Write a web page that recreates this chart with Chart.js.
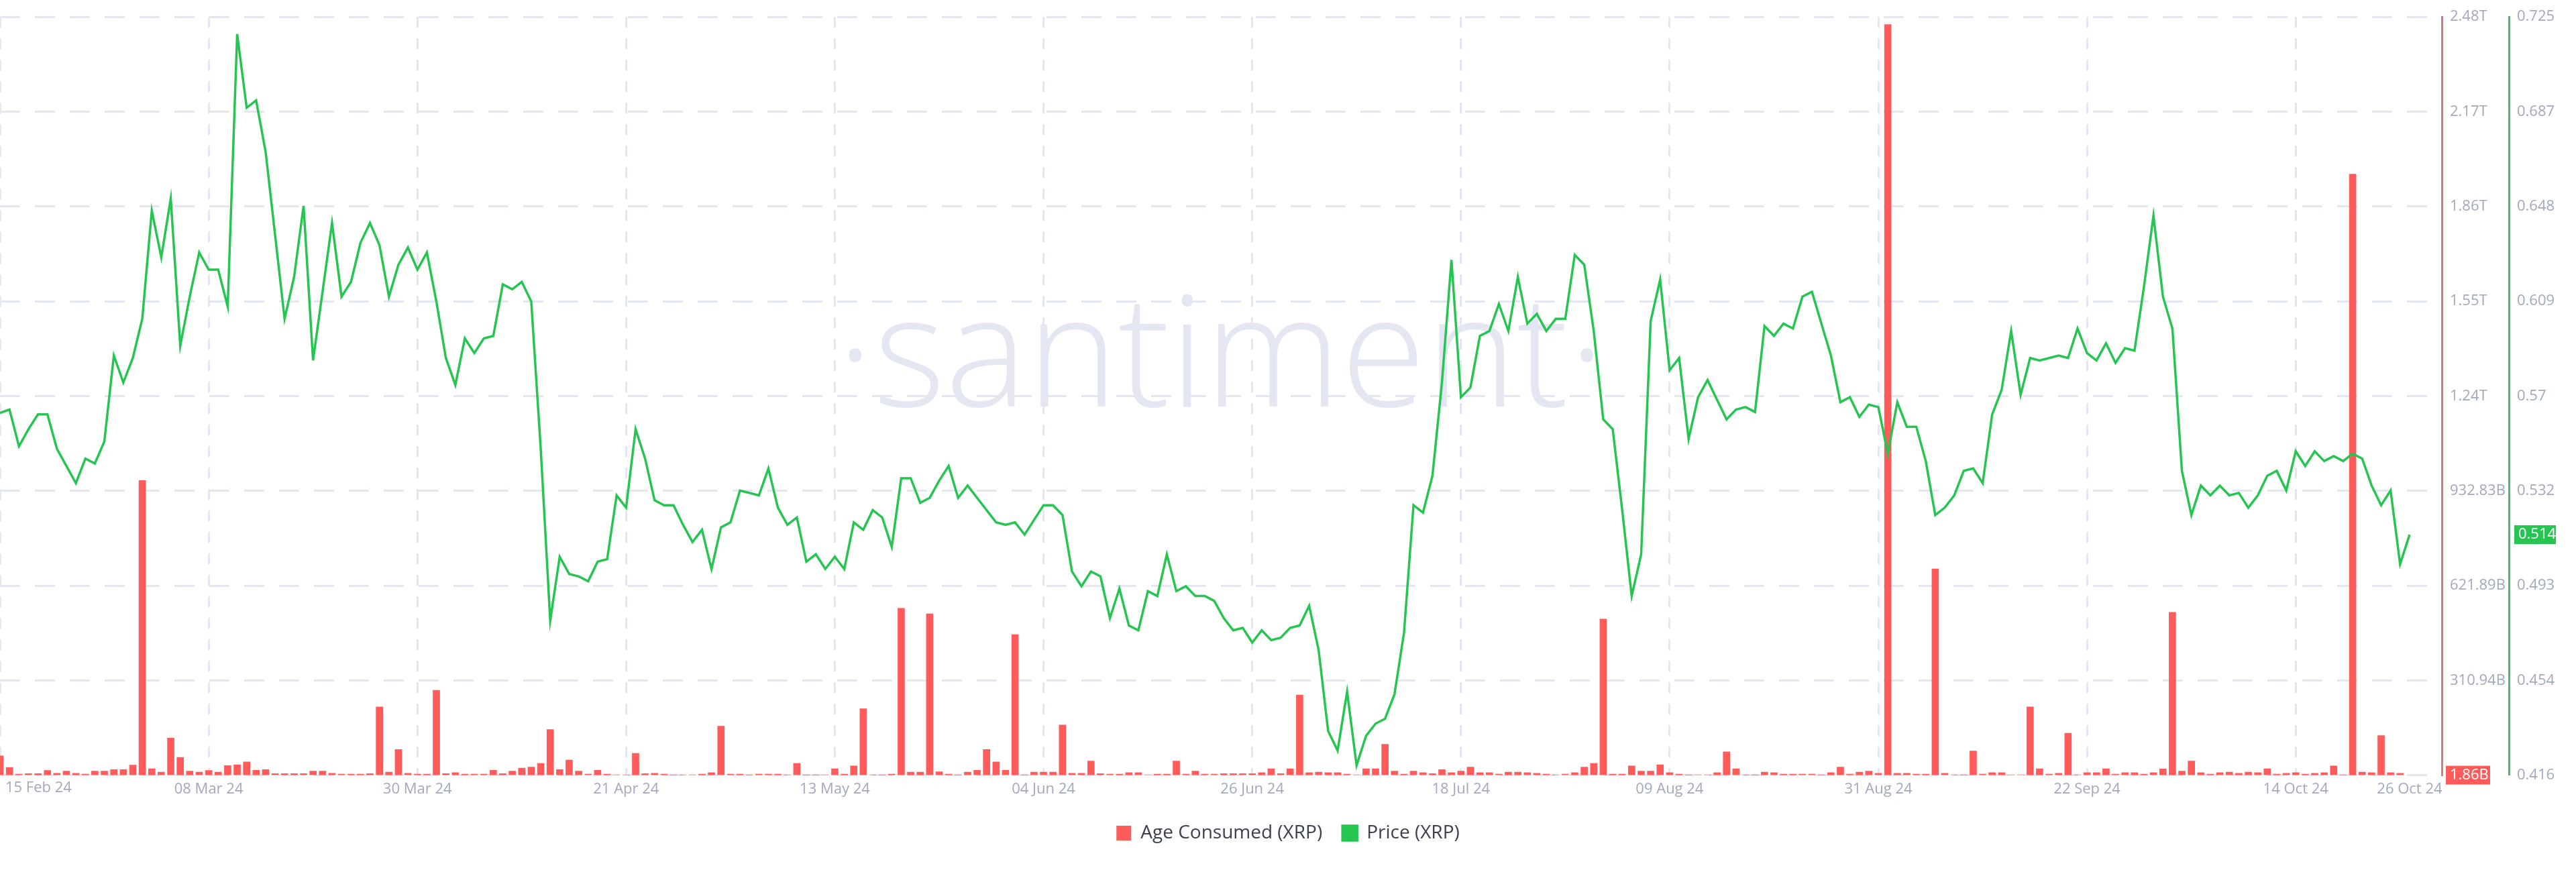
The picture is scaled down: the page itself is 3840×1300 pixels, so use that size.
<!DOCTYPE html>
<html>
<head>
<meta charset="utf-8">
<script src="https://cdn.jsdelivr.net/npm/chart.js@4.4.1/dist/chart.umd.min.js"></script>
<style>
  html, body { margin: 0; padding: 0; background: #fff; }
</style>
</head>
<body>
<canvas id="c" width="3840" height="1300"></canvas>
<script>
// Daily series, 15 Feb 24 .. 26 Oct 24 (index = days since 15 Feb)
var startDate = new Date(Date.UTC(2024, 1, 15));

var xTickDays = [0, 22, 44, 66, 88, 110, 132, 154, 176, 198, 220, 242, 254];

// Age Consumed (XRP), billions
var ageConsumed = [
  65, 27, 5, 7, 7, 17, 8, 15, 8, 5,
  15, 15, 20, 20, 35, 965, 23, 12, 123, 60,
  15, 12, 17, 12, 33, 36, 45, 18, 20, 7,
  7, 7, 7, 15, 15, 8, 5, 5, 5, 7,
  225, 12, 86, 8, 5, 5, 279, 7, 10, 5,
  5, 5, 18, 7, 15, 25, 28, 40, 151, 20,
  51, 15, 5, 18, 5, 3, 3, 73, 7, 8,
  5, 3, 3, 3, 5, 10, 162, 5, 5, 3,
  5, 5, 5, 3, 40, 3, 3, 3, 23, 5,
  32, 219, 3, 3, 5, 547, 12, 12, 529, 13,
  5, 3, 12, 18, 86, 45, 18, 461, 3, 12,
  12, 12, 166, 8, 8, 48, 7, 5, 5, 10,
  10, 3, 5, 5, 48, 5, 15, 5, 5, 7,
  7, 7, 7, 10, 23, 7, 23, 264, 10, 12,
  10, 10, 5, 3, 23, 23, 103, 15, 5, 15,
  10, 7, 20, 10, 15, 28, 10, 10, 5, 12,
  12, 10, 8, 5, 3, 5, 10, 28, 40, 512,
  5, 5, 32, 15, 15, 36, 10, 5, 3, 3,
  3, 10, 78, 23, 3, 3, 12, 10, 5, 5,
  5, 5, 3, 10, 28, 5, 12, 15, 8, 2455,
  8, 8, 5, 5, 676, 8, 3, 3, 81, 5,
  10, 10, 3, 3, 225, 23, 5, 8, 139, 3,
  10, 10, 23, 5, 10, 10, 5, 10, 22, 534,
  15, 48, 10, 5, 10, 12, 8, 12, 10, 23,
  5, 8, 10, 5, 8, 10, 32, 3, 1966, 12,
  10, 131, 10, 8, null
];

// Price (XRP), USD
var price = [
  0.5636, 0.565, 0.550, 0.557, 0.563, 0.563, 0.549, 0.542, 0.535, 0.545,
  0.543, 0.552, 0.587, 0.576, 0.586, 0.602, 0.646, 0.627, 0.651, 0.591,
  0.611, 0.629, 0.622, 0.622, 0.607, 0.718, 0.688, 0.691, 0.670, 0.636,
  0.602, 0.619, 0.648, 0.585, 0.613, 0.641, 0.611, 0.617, 0.633, 0.641,
  0.632, 0.611, 0.624, 0.631, 0.622, 0.629, 0.609,
  0.586, 0.575, 0.594, 0.588, 0.594, 0.595, 0.616, 0.614, 0.617, 0.609,
  0.549, 0.479, 0.505, 0.498, 0.497, 0.495, 0.503, 0.504, 0.530, 0.525,
  0.557, 0.545, 0.528, 0.526, 0.526, 0.518, 0.511, 0.516, 0.500, 0.517,
  0.519, 0.532, 0.531, 0.530, 0.541, 0.525, 0.518, 0.521, 0.503, 0.506,
  0.500, 0.505,
  0.500, 0.519, 0.516, 0.524, 0.521, 0.509, 0.537, 0.537, 0.527, 0.529,
  0.536, 0.542, 0.529, 0.534, 0.529, 0.524, 0.519, 0.518, 0.519, 0.514,
  0.520, 0.526, 0.526, 0.522, 0.499, 0.493, 0.499, 0.497, 0.480, 0.492,
  0.477, 0.475, 0.491, 0.489, 0.506, 0.491, 0.493, 0.489, 0.489, 0.487,
  0.480, 0.475, 0.476,
  0.470, 0.475, 0.471, 0.472, 0.476, 0.477, 0.485, 0.467, 0.434, 0.426,
  0.450, 0.420, 0.432, 0.437, 0.439, 0.449, 0.474, 0.526, 0.523, 0.538,
  0.576, 0.626, 0.570, 0.574, 0.595, 0.597, 0.608, 0.597, 0.619, 0.600,
  0.604, 0.597, 0.602, 0.602, 0.628, 0.624, 0.597, 0.561, 0.557, 0.524,
  0.489, 0.506,
  0.601, 0.618, 0.581, 0.586, 0.553, 0.570, 0.577, 0.569, 0.561, 0.565,
  0.566, 0.564, 0.599, 0.595, 0.600, 0.598, 0.611, 0.613, 0.600, 0.587,
  0.568, 0.570, 0.562, 0.567, 0.566, 0.547, 0.568, 0.558, 0.558, 0.544,
  0.522, 0.525, 0.530, 0.540, 0.541, 0.535, 0.563, 0.573, 0.597, 0.571,
  0.586, 0.585,
  0.586, 0.587, 0.586, 0.598, 0.588, 0.585, 0.592, 0.584, 0.590, 0.589,
  0.615, 0.644, 0.611, 0.598, 0.540, 0.522, 0.534, 0.530, 0.534, 0.530,
  0.531, 0.525, 0.530, 0.538, 0.540, 0.532, 0.548, 0.542, 0.548, 0.544,
  0.546, 0.544, 0.547, 0.545, 0.534, 0.526, 0.532, 0.502, 0.514
];

var barTickLabels = ['1.86B', '310.94B', '621.89B', '932.83B', '1.24T', '1.55T', '1.86T', '2.17T', '2.48T'];
var priceTickLabels = ['0.416', '0.454', '0.493', '0.532', '0.57', '0.609', '0.648', '0.687', '0.725'];

var BAR_MIN = 1.86, BAR_MAX = 2480;
var PRICE_MIN = 0.416, PRICE_MAX = 0.725;

var RED = '#ff5b5b';
var GREEN = '#26c552';
var TICK = '#a3a8bd';
var GRID = '#e4e7f0';

function dayLabel(d) {
  var dt = new Date(startDate.getTime() + d * 86400000);
  var mon = ['Jan','Feb','Mar','Apr','May','Jun','Jul','Aug','Sep','Oct','Nov','Dec'][dt.getUTCMonth()];
  var dd = dt.getUTCDate();
  return (dd < 10 ? '0' : '') + dd + ' ' + mon + ' 24';
}

function evenTicks(min, max, n) {
  var t = [];
  for (var i = 0; i < n; i++) t.push({ value: min + (max - min) * i / (n - 1) });
  return t;
}

var barPoints = ageConsumed.map(function(v, i) { return { x: i, y: v }; });
var pricePoints = price.map(function(v, i) { return { x: i, y: v }; });

// watermark, first date label, current-value badges
var decor = {
  id: 'decor',
  beforeDatasetsDraw: function(chart) {
    var a = chart.chartArea, ctx = chart.ctx;
    ctx.save();
    ctx.fillStyle = '#e4e7f1';
    ctx.font = '300 230px "Open Sans", sans-serif';
    ctx.textAlign = 'center';
    ctx.textBaseline = 'middle';
    ctx.fillText('\u00b7santiment\u00b7', (a.left + a.right) / 2, 540);
    ctx.restore();
  },
  afterDraw: function(chart) {
    var ctx = chart.ctx, a = chart.chartArea;
    var yb = chart.scales.yBar, yp = chart.scales.yPrice;
    ctx.save();
    ctx.font = '22px "Open Sans", sans-serif';
    ctx.fillStyle = TICK;
    ctx.textAlign = 'left';
    ctx.textBaseline = 'top';
    ctx.fillText(dayLabel(0), a.left + 8, a.bottom + 8);
    ctx.textBaseline = 'middle';
    var by = yb.getPixelForValue(BAR_MIN);
    ctx.fillStyle = RED;
    ctx.fillRect(yb.left + 6, by - 14, 66, 28);
    ctx.fillStyle = '#fff';
    ctx.fillText('1.86B', yb.left + 12, by);
    var last = price[price.length - 1];
    var py = yp.getPixelForValue(last);
    ctx.fillStyle = GREEN;
    ctx.fillRect(yp.left + 8, py - 14, 62, 28);
    ctx.fillStyle = '#fff';
    ctx.fillText(last.toFixed(3), yp.left + 14, py);
    ctx.restore();
  }
};

var ctx = document.getElementById('c').getContext('2d');
new Chart(ctx, {
  data: {
    datasets: [
      {
        type: 'line',
        label: 'Price (XRP)',
        data: pricePoints,
        yAxisID: 'yPrice',
        borderColor: GREEN,
        backgroundColor: GREEN,
        borderWidth: 3.5,
        pointRadius: 0,
        tension: 0,
        order: 1
      },
      {
        type: 'bar',
        label: 'Age Consumed (XRP)',
        data: barPoints,
        yAxisID: 'yBar',
        backgroundColor: RED,
        borderWidth: 0,
        barThickness: 10,
        order: 2
      }
    ]
  },
  options: {
    responsive: false,
    animation: false,
    devicePixelRatio: 1,
    layout: { padding: { top: 4, bottom: 34, left: 0, right: 0 } },
    plugins: {
      legend: {
        position: 'bottom',
        reverse: true,
        labels: {
          color: '#3c4152',
          font: { size: 28, family: 'Open Sans' },
          boxWidth: 22, boxHeight: 22, padding: 30
        }
      },
      tooltip: { enabled: false }
    },
    scales: {
      x: {
        type: 'linear',
        offset: false,
        min: 0,
        max: 257.4,
        afterBuildTicks: function(s) { s.ticks = xTickDays.map(function(d) { return { value: d }; }); },
        afterFit: function(s) { s.paddingLeft = 0; s.paddingRight = 0; },
        ticks: {
          autoSkip: false, maxRotation: 0, color: TICK, padding: 8,
          font: { size: 22, family: 'Open Sans' },
          callback: function(v) { return v === 0 ? '' : dayLabel(v); }
        },
        grid: {
          offset: false,
          color: function(c) { return c.tick && c.tick.value === 254 ? 'rgba(0,0,0,0)' : GRID; },
          lineWidth: 3, drawTicks: false
        },
        border: { display: false, dash: [16, 16] }
      },
      yBar: {
        position: 'right',
        min: BAR_MIN, max: BAR_MAX,
        afterBuildTicks: function(s) { s.ticks = evenTicks(BAR_MIN, BAR_MAX, barTickLabels.length); },
        afterFit: function(s) { s.width = 100; },
        ticks: {
          color: TICK, padding: 12, font: { size: 22, family: 'Open Sans' },
          callback: function(v, i) { return i === 0 ? '' : barTickLabels[i]; }
        },
        grid: { color: GRID, lineWidth: 3, drawTicks: false },
        border: { display: true, color: '#d97a7a', width: 3, dash: [30, 22] }
      },
      yPrice: {
        position: 'right',
        min: PRICE_MIN, max: PRICE_MAX,
        afterBuildTicks: function(s) { s.ticks = evenTicks(PRICE_MIN, PRICE_MAX, priceTickLabels.length); },
        afterFit: function(s) { s.width = 100; },
        ticks: {
          color: TICK, padding: 12, font: { size: 22, family: 'Open Sans' },
          callback: function(v, i) { return priceTickLabels[i]; }
        },
        grid: { display: false, drawTicks: false },
        border: { display: true, color: '#4cb870', width: 3 }
      }
    }
  },
  plugins: [decor]
});
</script>
</body>
</html>
